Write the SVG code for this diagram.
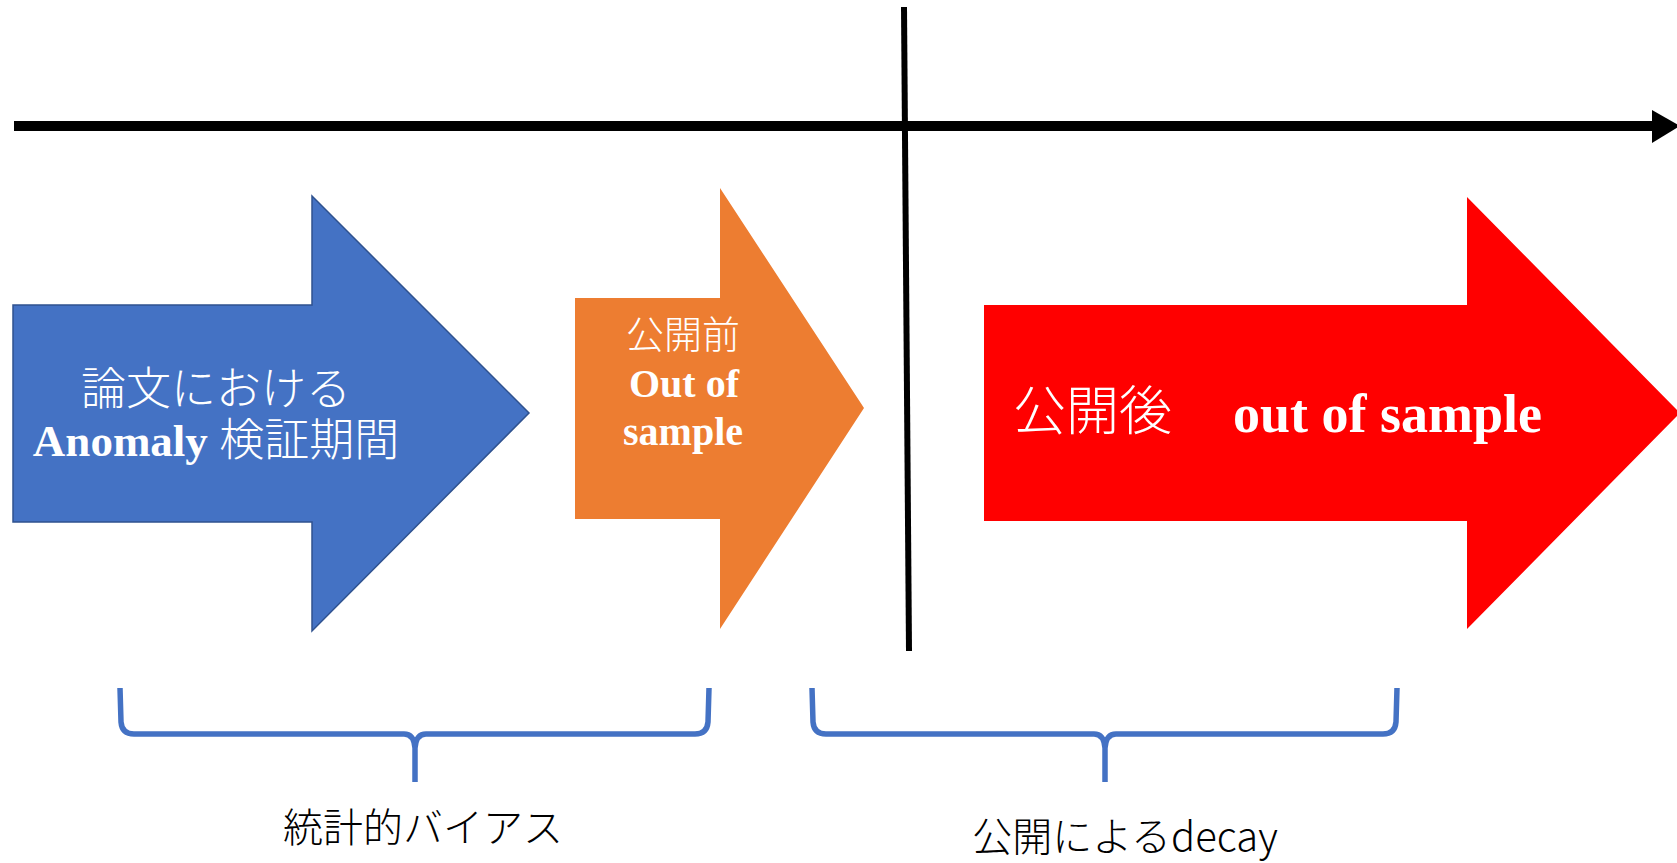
<svg xmlns="http://www.w3.org/2000/svg" width="1677" height="863" viewBox="0 0 1677 863">
<style>
.jp{font-family:"Noto Sans CJK JP","Noto Sans",sans-serif;}
.wt{fill:#ffffff;}
.ser{font-family:"Liberation Serif","Noto Sans CJK JP",serif;}
.brace{fill:none;stroke:#4472C4;stroke-width:5.5;stroke-linejoin:round;}
.lbl{font-family:"Noto Sans CJK JP","Noto Sans",sans-serif;font-size:40px;font-weight:300;fill:#000;text-anchor:middle;}
</style>
<rect width="1677" height="863" fill="#ffffff"/>
<g id="connectors">
  <line x1="14" y1="126" x2="1654" y2="126" stroke="#000" stroke-width="10"/>
  <polygon points="1652,110 1680,126 1652,143" fill="#000"/>
  <line x1="904" y1="7" x2="909" y2="651" stroke="#000" stroke-width="6"/>
</g>
<g id="blue-arrow">
  <polygon points="13,305 312,305 312,196 529,413 312,631 312,522 13,522" fill="#4472C4" stroke="#2F528F" stroke-width="1.5"/>
  <text class="jp wt" x="216" y="405" font-size="45" font-weight="300" text-anchor="middle">論文における</text>
  <text class="ser wt" x="216" y="456" font-size="45" text-anchor="middle"><tspan font-weight="bold">Anomaly</tspan><tspan font-weight="300"> 検証期間</tspan></text>
</g>
<g id="orange-arrow">
  <polygon points="575,298 720,298 720,188 864,408 720,629 720,519 575,519" fill="#ED7D31"/>
  <text class="jp wt" x="683" y="348" font-size="38" font-weight="300" text-anchor="middle">公開前</text>
  <text class="ser wt" x="684" y="397" font-size="40" font-weight="bold" text-anchor="middle">Out of</text>
  <text class="ser wt" x="683" y="445" font-size="40" font-weight="bold" text-anchor="middle">sample</text>
</g>
<g id="red-arrow">
  <polygon points="984,305 1467,305 1467,197 1680,413 1467,629 1467,521 984,521" fill="#FF0000"/>
  <text class="jp wt" x="1013" y="430" font-size="53" font-weight="300">公開後</text>
  <text class="ser wt" x="1233" y="432" font-size="54" font-weight="bold">out of sample</text>
</g>
<g id="brace-left">
  <path class="brace" d="M120,688 L121,722 Q122,734 134,734 L404,734 Q414,734 415,748 L415,782 M709,688 L708,722 Q707,734 695,734 L426,734 Q416,734 415,748"/>
  <text class="lbl" x="423" y="842">統計的バイアス</text>
</g>
<g id="brace-right">
  <path class="brace" d="M812,688 L813,722 Q814,734 826,734 L1094,734 Q1104,734 1105,748 L1105,782 M1397,688 L1396,722 Q1395,734 1383,734 L1116,734 Q1106,734 1105,748"/>
  <text class="lbl" x="1125" y="851" font-size="41">公開によるdecay</text>
</g>
</svg>
